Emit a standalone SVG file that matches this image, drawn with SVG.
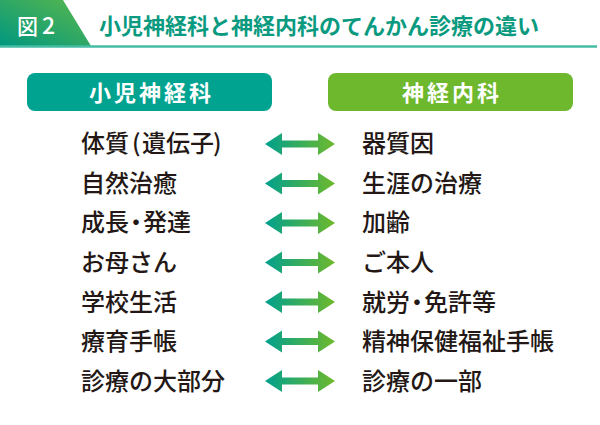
<svg xmlns="http://www.w3.org/2000/svg" width="600" height="425" viewBox="0 0 600 425">
<defs>
<linearGradient id="hdr" x1="0" y1="1" x2="1" y2="0">
<stop offset="0" stop-color="#00977f"/>
<stop offset="1" stop-color="#5cb84c"/>
</linearGradient>
<linearGradient id="arr" x1="0" y1="0" x2="1" y2="0">
<stop offset="0" stop-color="#00a08e"/>
<stop offset="1" stop-color="#6fb92b"/>
</linearGradient>
<path id="dbl" d="M0,0 L17,-11 L17,-3.5 L53,-3.5 L53,-11 L70,0 L53,11 L53,3.5 L17,3.5 L17,11 Z"/>
</defs>
<style>
.jp{font-family:"Noto Sans CJK JP","Noto Sans",sans-serif}
.item{font-size:24px;font-weight:500;fill:#231815}
.hd{font-size:22px;font-weight:700;fill:#fff;letter-spacing:3px}
.arrow{fill:url(#arr)}
.pdot{font-feature-settings:"palt"}
</style>
<rect width="600" height="425" fill="#fff"/>
<g id="header">
<polygon points="0,0 63,0 91,46 0,46" fill="url(#hdr)"/>
<line x1="0" y1="46.5" x2="597" y2="46.5" stroke="#45bda3" stroke-width="2.5"/>
<text class="jp" x="17" y="34" font-size="21" font-weight="500" fill="#fff">図<tspan dx="4" font-size="23">2</tspan></text>
<text class="jp" x="99" y="34" font-size="22" font-weight="700" fill="#0a9a80">小児神経科と神経内科のてんかん診療の違い</text>
</g>
<g id="head-left">
<rect x="27" y="73" width="245" height="38" rx="8" fill="#00a390"/>
<text class="jp hd" x="151.5" y="100.5" text-anchor="middle">小児神経科</text>
</g>
<g id="head-right">
<rect x="328" y="73" width="245" height="38" rx="8" fill="#6db82d"/>
<text class="jp hd" x="452" y="100.5" text-anchor="middle">神経内科</text>
</g>
<g id="left-items" class="jp item">
<text x="81" y="152">体質<tspan x="132">(</tspan><tspan x="142">遺伝子</tspan><tspan x="213">)</tspan></text>
<text x="81" y="191.5">自然治癒</text>
<text x="81" y="231">成長<tspan class="pdot" dx="1">・</tspan><tspan dx="1">発達</tspan></text>
<text x="81" y="271">お母さん</text>
<text x="81" y="310.5">学校生活</text>
<text x="81" y="350">療育手帳</text>
<text x="81" y="389.5">診療の大部分</text>
</g>
<g id="right-items" class="jp item">
<text x="362" y="152">器質因</text>
<text x="362" y="191.5">生涯の治療</text>
<text x="362" y="231">加齢</text>
<text x="362" y="271">ご本人</text>
<text x="362" y="310.5">就労<tspan class="pdot" dx="1">・</tspan><tspan dx="1">免許等</tspan></text>
<text x="362" y="350">精神保健福祉手帳</text>
<text x="362" y="389.5">診療の一部</text>
</g>
<g id="connectors" class="arrow">
<use href="#dbl" x="265" y="144"/>
<use href="#dbl" x="265" y="183.5"/>
<use href="#dbl" x="265" y="223"/>
<use href="#dbl" x="265" y="262.5"/>
<use href="#dbl" x="265" y="302"/>
<use href="#dbl" x="265" y="341.5"/>
<use href="#dbl" x="265" y="381"/>
</g>
</svg>
